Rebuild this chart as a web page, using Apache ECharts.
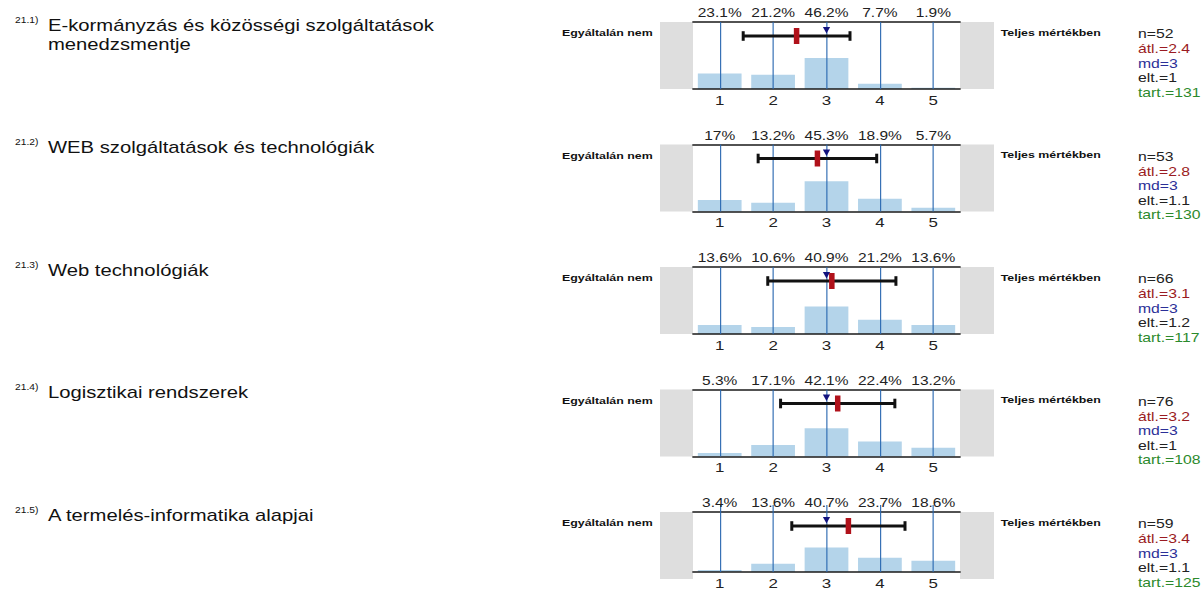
<!DOCTYPE html>
<html>
<head>
<meta charset="utf-8">
<script src="https://cdn.jsdelivr.net/npm/echarts@6/dist/echarts.min.js"></script>
<style>
  html, body { margin: 0; padding: 0; background: #fff; overflow: hidden; }
  #wrap { width: 1202px; height: 590px; overflow: hidden; }
  #chart { width: 961.6px; height: 590px; transform: scaleX(1.25); transform-origin: 0 0; }
</style>
</head>
<body>
<div id="wrap"><div id="chart"></div></div>
<script>
// ---------- data ----------
const categories = ['1', '2', '3', '4', '5'];
const codes = ['21.1)', '21.2)', '21.3)', '21.4)', '21.5)'];
const titles = [
  'E-kormányzás és közösségi szolgáltatások\nmenedzsmentje',
  'WEB szolgáltatások és technológiák',
  'Web technológiák',
  'Logisztikai rendszerek',
  'A termelés-informatika alapjai'
];
const pctEgov = [23.1, 21.2, 46.2, 7.7, 1.9];
const pctWebSzolg = [17, 13.2, 45.3, 18.9, 5.7];
const pctWebTech = [13.6, 10.6, 40.9, 21.2, 13.6];
const pctLogiszt = [5.3, 17.1, 42.1, 22.4, 13.2];
const pctTermInf = [3.4, 13.6, 40.7, 23.7, 18.6];
const percentages = [pctEgov, pctWebSzolg, pctWebTech, pctLogiszt, pctTermInf];

const nValues = [52, 53, 66, 76, 59];
const meanLabels = [2.4, 2.8, 3.1, 3.2, 3.4];
const medianValues = [3, 3, 3, 3, 3];
const sdLabels = [1, 1.1, 1.2, 1, 1.1];
const tartValues = [131, 130, 117, 108, 125];
// marker positions
const meanValues = [2.44, 2.83, 3.10, 3.21, 3.41];
const sdValues = [1.0, 1.11, 1.2, 1.07, 1.06];

const leftLabel = 'Egyáltalán nem';
const rightLabel = 'Teljes mértékben';

// ---------- layout ----------
const FONT = "'Liberation Sans', Arial, Helvetica, sans-serif";
const TOP0 = 22, STEP = 122.5, PH = 67;
const PL = 554.4, PW = 213.6;
const ERR_OFF = 14; // px below plot top

const grids = [], xAxes = [], yAxes = [], series = [], graphics = [];

percentages.forEach((pct, i) => {
  const top = TOP0 + STEP * i;
  grids.push({ left: PL, top: top, width: PW, height: PH, containLabel: false });
  // bottom category axis
  xAxes.push({
    gridIndex: i, type: 'category', data: categories, position: 'bottom', z: 4,
    axisLine: { show: true, lineStyle: { color: '#1a1a1a', width: 1.5 } },
    axisTick: { show: true, alignWithLabel: true, inside: true, length: PH, interval: 0,
      lineStyle: { color: '#2a68b0', width: 0.9 } },
    axisLabel: { interval: 0, fontSize: 13.5, color: '#222', margin: 4, fontFamily: FONT },
    splitLine: { show: false }
  });
  // top axis with percentages
  xAxes.push({
    gridIndex: i, type: 'category', data: pct.map(v => v + '%'), position: 'top', z: 4,
    axisLine: { show: true, lineStyle: { color: '#1a1a1a', width: 1.5 } },
    axisTick: { show: false },
    axisLabel: { interval: 0, hideOverlap: false, fontSize: 12.4, color: '#222', margin: 3, fontFamily: FONT },
    splitLine: { show: false }
  });
  // hidden value axis for markers
  xAxes.push({ gridIndex: i, type: 'value', min: 0.5, max: 5.5, show: false });
  yAxes.push({ gridIndex: i, type: 'value', min: 0, max: 100, show: false });

  series.push({
    type: 'bar', xAxisIndex: 3 * i, yAxisIndex: i, data: pct, barWidth: 35,
    itemStyle: { color: '#b4d4ea' }, silent: true, animation: false
  });
  series.push({
    type: 'custom', xAxisIndex: 3 * i + 2, yAxisIndex: i, z: 10, silent: true, animation: false,
    data: [[meanValues[i], sdValues[i], medianValues[i]]],
    renderItem: function (params, api) {
      const m = api.value(0), s = api.value(1), md = api.value(2);
      const yRef = api.coord([m, 100])[1] + ERR_OFF;
      const xl = api.coord([m - s, 0])[0];
      const xr = api.coord([m + s, 0])[0];
      const xm = api.coord([m, 0])[0];
      const xd = api.coord([md, 0])[0];
      return {
        type: 'group',
        children: [
          { type: 'line', shape: { x1: xl, y1: yRef, x2: xr, y2: yRef }, style: { stroke: '#111', lineWidth: 3 } },
          { type: 'rect', shape: { x: xl - 1.2, y: yRef - 4.8, width: 2.4, height: 9.6 }, style: { fill: '#111' } },
          { type: 'rect', shape: { x: xr - 1.2, y: yRef - 4.8, width: 2.4, height: 9.6 }, style: { fill: '#111' } },
          { type: 'polygon', shape: { points: [[xd - 2.9, yRef - 9], [xd + 2.9, yRef - 9], [xd, yRef - 2.4]] }, style: { fill: '#12127e' } },
          { type: 'rect', shape: { x: xm - 2.2, y: yRef - 8, width: 4.4, height: 16 }, style: { fill: '#b0111a' } }
        ]
      };
    }
  });

  // gray side boxes
  graphics.push({ type: 'rect', silent: true, shape: { x: 528, y: top, width: PL - 528, height: PH }, style: { fill: '#dedede' } });
  graphics.push({ type: 'rect', silent: true, shape: { x: PL + PW, y: top, width: 27.2, height: PH }, style: { fill: '#dedede' } });
  // code + title
  graphics.push({ type: 'text', silent: true, style: { text: codes[i], x: 12, y: top - 2, fill: '#111', fontSize: 8.2, fontFamily: FONT, verticalAlign: 'middle' } });
  graphics.push({ type: 'text', silent: true, style: { text: titles[i], x: 38.4, y: top - 6.5, fill: '#111', fontSize: 16.2, lineHeight: 19, fontFamily: FONT, verticalAlign: 'top' } });
  // side labels
  graphics.push({ type: 'text', silent: true, style: { text: leftLabel, x: 449.6, y: top + 10.5, fill: '#111', fontSize: 9.9, fontWeight: 'bold', fontFamily: FONT, verticalAlign: 'middle' } });
  graphics.push({ type: 'text', silent: true, style: { text: rightLabel, x: 800.6, y: top + 10.2, fill: '#111', fontSize: 9.9, fontWeight: 'bold', fontFamily: FONT, verticalAlign: 'middle' } });
  // stats
  const stats = [
    ['n=' + nValues[i], '#222'],
    ['átl.=' + meanLabels[i], '#9a1b22'],
    ['md=' + medianValues[i], '#2b2f97'],
    ['elt.=' + sdLabels[i], '#222'],
    ['tart.=' + tartValues[i], '#2c8a2c']
  ];
  stats.forEach((s, k) => {
    graphics.push({ type: 'text', silent: true, style: { text: s[0], x: 910.4, y: top + 12 + 14.6 * k, fill: s[1], fontSize: 12.6, fontFamily: FONT, verticalAlign: 'middle' } });
  });
});

const chart = echarts.init(document.getElementById('chart'), null, { renderer: 'svg' });
chart.setOption({
  animation: false,
  backgroundColor: '#fff',
  grid: grids,
  xAxis: xAxes,
  yAxis: yAxes,
  series: series,
  graphic: graphics
});
</script>
</body>
</html>
